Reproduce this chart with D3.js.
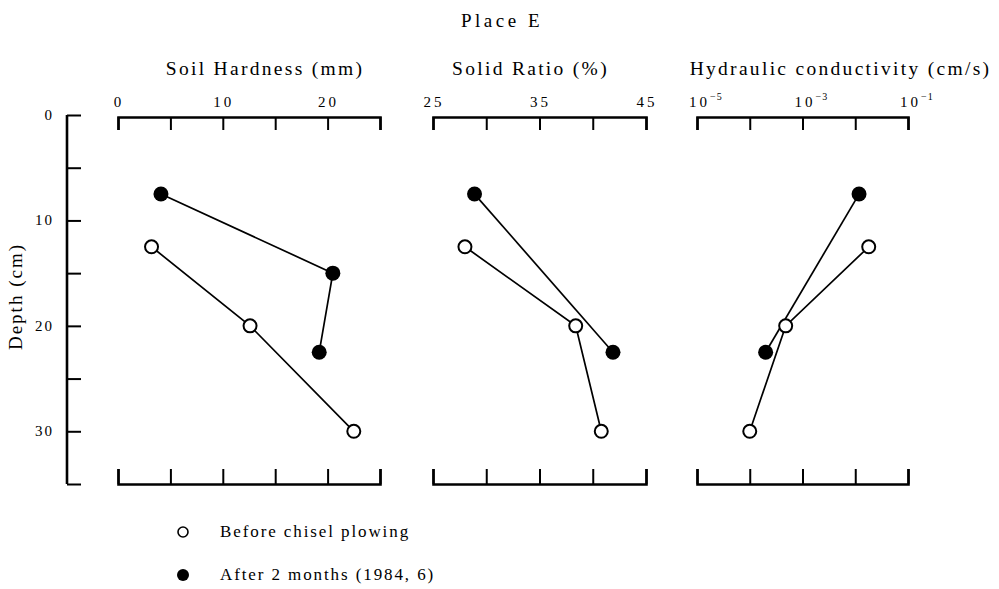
<!DOCTYPE html>
<html>
<head>
<meta charset="utf-8">
<script src="https://cdn.jsdelivr.net/npm/d3@7"></script>
<style>
  body { margin: 0; background: #fff; }
  svg { display: block; font-family: "Liberation Serif", "DejaVu Serif", serif; }
  .dom path.domain { stroke: #000; stroke-width: 2.6; }
  .dom .tick line { stroke: #000; stroke-width: 2; }
</style>
</head>
<body>
<svg width="999" height="589"></svg>
<script>
// depths (cm) where the samples were taken
var depthBefore = [12.5, 20, 30];
var depthAfter = [7.5, 15, 22.5];

var hardnessBefore = [3.2, 12.6, 22.5];
var hardnessAfter = [4.1, 20.5, 19.2];
var solidBefore = [28.0, 38.4, 40.8];
var solidAfter = [28.9, null, 41.9];
var condBefore = [0.018, 0.00048, 0.0001];
var condAfter = [0.0118, null, 0.0002];

var depthTicks = [0, 5, 10, 15, 20, 25, 30, 35];
var depthLabels = [0, 10, 20, 30];

var seriesNames = ["Before chisel plowing", "After 2 months (1984, 6)"];

var svg = d3.select("svg");

svg.append("text")
    .attr("x", 502).attr("y", 27)
    .attr("text-anchor", "middle")
    .attr("font-size", 19)
    .attr("letter-spacing", 3.5)
    .text("Place E");

var y = d3.scaleLinear().domain([0, 35]).range([115, 484]);

// depth axis
var yAxis = svg.append("g")
    .attr("class", "dom")
    .attr("transform", "translate(67,0)")
    .call(d3.axisRight(y).tickValues(depthTicks).tickSize(14).tickFormat(""));
yAxis.select(".domain").remove();
yAxis.append("line")
    .attr("x1", 0).attr("x2", 0)
    .attr("y1", y(0)).attr("y2", y(35))
    .attr("stroke", "#000").attr("stroke-width", 2.6);

svg.append("g").selectAll("text")
    .data(depthLabels)
    .enter().append("text")
      .attr("x", 54)
      .attr("y", function(d) { return y(d) + 5; })
      .attr("text-anchor", "end")
      .attr("font-size", 15)
      .attr("letter-spacing", 2)
      .text(function(d) { return d; });

svg.append("text")
    .attr("transform", "translate(22," + (y(17.5) - 3) + ") rotate(-90)")
    .attr("text-anchor", "middle")
    .attr("font-size", 19)
    .attr("letter-spacing", 2)
    .text("Depth (cm)");

var panels = [
  {title: "Soil Hardness (mm)", before: hardnessBefore, after: hardnessAfter,
   x: d3.scaleLinear().domain([0, 25]).range([118, 380]), titleShift: 16,
   ticks: [0, 5, 10, 15, 20, 25], labels: [0, 10, 20]},
  {title: "Solid Ratio (%)", before: solidBefore, after: solidAfter,
   x: d3.scaleLinear().domain([25, 45]).range([433, 646]), titleShift: -9,
   ticks: [25, 30, 35, 40, 45], labels: [25, 35, 45]},
  {title: "Hydraulic conductivity (cm/s)", before: condBefore, after: condAfter,
   x: d3.scaleLog().domain([1e-5, 1e-1]).range([697, 908]), titleShift: 38,
   ticks: [1e-5, 1e-4, 1e-3, 1e-2, 1e-1], labels: [1e-5, 1e-3, 1e-1], log: true}
];

var line = d3.line();

panels.forEach(function(p) {
  var x = p.x;
  var g = svg.append("g");
  var mid = (x.range()[0] + x.range()[1]) / 2;

  g.append("text")
      .attr("x", mid + p.titleShift).attr("y", 75)
      .attr("text-anchor", "middle")
      .attr("font-size", 19.5)
      .attr("letter-spacing", 2.3)
      .text(p.title);

  g.append("g")
      .attr("class", "dom")
      .attr("transform", "translate(0," + (y(0) + 2) + ")")
      .call(d3.axisTop(x).tickValues(p.ticks).tickSizeInner(-13).tickSizeOuter(-13).tickFormat(""));

  g.append("g")
      .attr("class", "dom")
      .attr("transform", "translate(0," + y(35) + ")")
      .call(d3.axisBottom(x).tickValues(p.ticks).tickSizeInner(-15).tickSizeOuter(-15).tickFormat(""));

  var lab = g.append("g").selectAll("text")
      .data(p.labels)
      .enter().append("text")
        .attr("y", 107)
        .attr("font-size", 15)
        .attr("letter-spacing", 3);
  if (p.log) {
    lab.attr("x", function(d) { return x(d) - 8; })
      .each(function(d) {
        var t = d3.select(this);
        t.append("tspan").text("10");
        t.append("tspan").attr("dy", -7).attr("font-size", 10).attr("letter-spacing", 1)
          .text("\u2212" + Math.round(-Math.log10(d)));
      });
  } else {
    lab.attr("x", function(d) { return x(d) + 1; })
      .attr("text-anchor", "middle")
      .text(function(d) { return d; });
  }

  var before = p.before.map(function(v, i) { return [v, depthBefore[i]]; }).filter(function(d) { return d[0] != null; });
  var after = p.after.map(function(v, i) { return [v, depthAfter[i]]; }).filter(function(d) { return d[0] != null; });

  [after, before].forEach(function(pts) {
    g.append("path")
        .attr("d", line(pts.map(function(d) { return [x(d[0]), y(d[1])]; })))
        .attr("fill", "none")
        .attr("stroke", "#000")
        .attr("stroke-width", 1.7);
  });

  g.selectAll("circle.after")
      .data(after)
      .enter().append("circle")
        .attr("class", "after")
        .attr("cx", function(d) { return x(d[0]); })
        .attr("cy", function(d) { return y(d[1]); })
        .attr("r", 7.5)
        .attr("fill", "#000");

  g.selectAll("circle.before")
      .data(before)
      .enter().append("circle")
        .attr("class", "before")
        .attr("cx", function(d) { return x(d[0]); })
        .attr("cy", function(d) { return y(d[1]); })
        .attr("r", 6.5)
        .attr("fill", "#fff")
        .attr("stroke", "#000")
        .attr("stroke-width", 2);
});

// legend
var legend = svg.append("g").selectAll("g")
    .data(seriesNames)
    .enter().append("g")
      .attr("transform", function(d, i) { return "translate(183," + (532 + i * 43) + ")"; });

legend.append("circle")
    .attr("r", function(d, i) { return i ? 6 : 5; })
    .attr("fill", function(d, i) { return i ? "#000" : "#fff"; })
    .attr("stroke", "#000")
    .attr("stroke-width", function(d, i) { return i ? 0 : 1.6; });

legend.append("text")
    .attr("x", 37)
    .attr("y", 5)
    .attr("font-size", 17)
    .attr("letter-spacing", 1.9)
    .text(function(d) { return d; });
</script>
</body>
</html>
